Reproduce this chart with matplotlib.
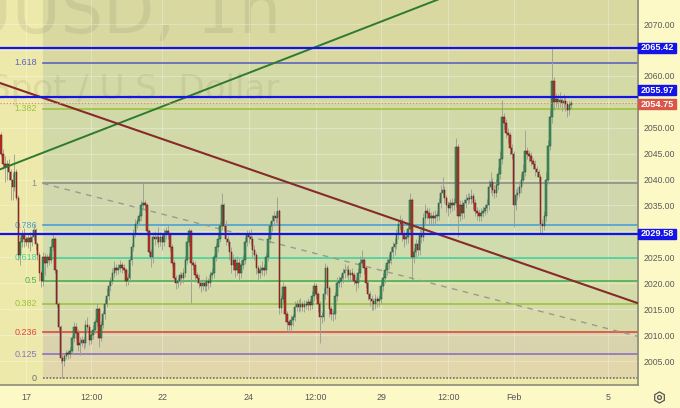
import numpy as np
import matplotlib.pyplot as plt
import matplotlib.transforms as mtransforms
from matplotlib.patches import Rectangle

plt.rcParams['font.family'] = ['Liberation Sans', 'DejaVu Sans']

# XAUUSD 1h candles (closes, open = previous close)
first_open = 2048.6
closes = [
    2045.0, 2043.0, 2042.5, 2043.0, 2041.5, 2040.0, 2038.5, 2041.5, 2036.5, 2025.5,
    2028.0, 2029.5, 2028.5, 2028.0, 2028.8, 2028.0, 2029.0, 2030.3, 2027.5, 2025.5,
    2022.0, 2020.5, 2025.0, 2024.0, 2025.0, 2024.5, 2027.0, 2028.5, 2022.5, 2016.0,
    2011.5, 2005.5, 2005.0, 2006.0, 2006.5, 2006.3, 2007.0, 2009.5, 2011.5, 2010.5,
    2008.0, 2008.5, 2009.0, 2008.5, 2012.0, 2011.5, 2009.0, 2010.0, 2011.0, 2012.5,
    2015.0, 2009.5, 2012.0, 2014.0, 2016.0, 2017.5, 2019.5, 2020.5, 2022.0, 2023.0,
    2022.5, 2023.0, 2023.5, 2023.0, 2022.5, 2020.5, 2021.0, 2024.5, 2027.0, 2029.5,
    2031.5, 2032.0, 2033.0, 2035.0, 2035.5, 2035.0, 2030.0, 2026.0, 2025.0, 2029.0,
    2028.5, 2029.0, 2028.0, 2029.0, 2028.0, 2029.5, 2030.0, 2029.5, 2027.0, 2024.0,
    2021.0, 2020.0, 2020.5, 2021.5, 2021.0, 2022.0, 2024.5, 2028.0, 2030.0, 2024.0,
    2023.5, 2021.5, 2021.0, 2020.0, 2019.5, 2020.0, 2019.5, 2020.5, 2020.0, 2021.5,
    2022.0, 2025.0, 2027.0, 2028.5, 2031.0, 2035.0, 2031.0, 2028.5, 2028.0, 2026.0,
    2023.5, 2024.5, 2022.5, 2024.0, 2022.0, 2023.5, 2024.5, 2028.0, 2029.5, 2029.0,
    2028.5, 2026.5, 2025.5, 2023.0, 2022.0, 2022.5, 2023.0, 2022.5, 2025.0, 2028.5,
    2031.0, 2032.0, 2033.0, 2032.5, 2034.0, 2015.2, 2017.0, 2019.3, 2014.0, 2012.5,
    2012.0, 2013.0, 2013.5, 2015.5, 2016.0, 2015.5, 2016.0, 2015.5, 2016.0, 2015.8,
    2016.3, 2015.8, 2017.5, 2019.5, 2018.0, 2016.0, 2013.5, 2013.5, 2018.0, 2023.0,
    2019.0, 2015.0, 2014.0, 2014.0, 2017.5, 2020.0, 2020.5, 2021.0, 2022.0, 2022.5,
    2022.5, 2021.5, 2022.0, 2021.5, 2020.5, 2020.0, 2022.0, 2024.0, 2024.5, 2023.0,
    2020.0, 2018.0, 2017.0, 2016.5, 2016.0, 2017.0, 2016.5, 2017.0, 2019.5, 2021.0,
    2022.5, 2024.0, 2024.5, 2026.0, 2027.0, 2027.5, 2029.5, 2031.5, 2032.0, 2029.5,
    2028.5, 2029.0, 2030.5, 2036.0, 2025.0, 2026.0, 2027.5, 2026.5, 2029.5, 2029.0,
    2032.5, 2034.0, 2033.5, 2032.5, 2033.0, 2032.5, 2033.0, 2033.0, 2035.5, 2037.5,
    2038.0, 2036.5, 2035.0, 2034.5, 2035.5, 2035.0, 2035.5, 2046.3, 2033.0, 2035.0,
    2033.5, 2035.5, 2036.0, 2036.5, 2036.3, 2036.8, 2035.5, 2034.0, 2033.5, 2033.0,
    2033.5, 2034.0, 2034.5, 2035.0, 2038.5, 2039.5, 2038.0, 2037.5, 2039.0, 2041.0,
    2044.0, 2052.0, 2051.0, 2049.0, 2048.5, 2046.0, 2045.0, 2035.0, 2037.0, 2037.5,
    2038.5, 2040.0, 2041.5, 2045.5, 2045.0, 2044.5, 2043.5, 2043.0, 2042.0, 2041.5,
    2040.5, 2031.5, 2031.0, 2033.0, 2040.0, 2046.5, 2052.0, 2059.0, 2055.0, 2055.5,
    2055.0, 2055.3, 2054.8, 2055.2, 2054.5, 2053.5, 2054.3, 2054.75,
]
# wick length above the body / below the body
up_wick = [
    0.6, 0.8, 1.5, 0.8, 1.0, 0.6, 1.2, 3.5, 0.5, 0.6,
    1.0, 0.8, 1.2, 0.6, 0.8, 1.0, 0.6, 1.2, 0.4, 0.5,
    0.6, 0.4, 1.0, 0.8, 0.6, 0.9, 1.5, 1.2, 0.4, 0.3,
    0.4, 0.4, 0.8, 0.5, 0.6, 0.7, 0.8, 0.6, 1.0, 0.8,
    0.6, 1.2, 0.8, 0.6, 1.0, 1.4, 0.6, 0.8, 0.9, 0.7,
    1.2, 0.5, 0.8, 0.6, 0.9, 1.5, 1.2, 0.8, 1.0, 1.3,
    0.8, 0.7, 0.9, 0.6, 0.8, 0.4, 0.9, 0.8, 0.7, 1.0,
    0.9, 0.6, 0.8, 1.0, 3.8, 0.6, 0.5, 0.4, 0.6, 0.8,
    1.0, 0.7, 1.8, 0.9, 0.6, 1.0, 0.8, 1.2, 0.4, 0.5,
    0.4, 0.6, 0.8, 0.6, 0.7, 0.9, 0.8, 1.0, 0.6, 0.4,
    0.5, 0.8, 0.6, 0.7, 0.5, 0.8, 0.6, 0.9, 0.6, 0.8,
    0.9, 0.7, 0.8, 1.0, 0.8, 2.5, 0.5, 1.2, 0.8, 0.6,
    0.9, 1.2, 0.6, 1.3, 0.8, 1.0, 0.9, 1.0, 0.7, 0.8,
    1.5, 0.6, 0.8, 0.5, 0.6, 1.0, 1.3, 0.7, 0.9, 1.0,
    0.8, 1.2, 0.9, 0.7, 2.6, 0.3, 0.8, 1.0, 0.4, 0.6,
    0.5, 0.8, 0.6, 1.0, 0.8, 0.9, 1.2, 0.6, 0.8, 0.7,
    0.9, 0.6, 1.0, 0.8, 0.6, 0.4, 0.5, 1.0, 1.2, 1.0,
    0.5, 0.4, 0.6, 0.9, 0.8, 1.2, 0.9, 0.8, 1.0, 1.3,
    0.8, 1.0, 0.7, 0.9, 0.6, 0.7, 1.0, 1.3, 2.0, 0.6,
    0.4, 0.5, 0.6, 0.8, 0.7, 0.9, 0.6, 0.8, 1.0, 0.9,
    1.0, 0.8, 1.2, 0.9, 1.0, 1.2, 1.0, 0.9, 1.2, 0.5,
    0.8, 1.0, 1.2, 1.4, 0.4, 0.8, 1.0, 0.9, 1.0, 1.5,
    1.0, 1.3, 0.8, 1.0, 0.7, 0.9, 1.2, 1.0, 1.0, 1.4,
    2.5, 0.8, 0.6, 0.9, 0.8, 1.0, 0.9, 1.7, 0.5, 1.0,
    1.0, 0.8, 1.2, 0.9, 1.0, 1.3, 0.6, 0.8, 0.7, 0.8,
    1.0, 0.9, 0.8, 1.2, 1.5, 2.0, 0.8, 1.0, 1.2, 1.4,
    1.5, 3.3, 0.8, 0.6, 0.9, 0.7, 0.8, 0.6, 1.2, 1.0,
    1.3, 1.0, 1.5, 4.0, 0.8, 0.7, 0.9, 0.6, 0.8, 0.7,
    0.6, 0.5, 0.8, 1.0, 1.5, 1.2, 1.5, 6.6, 0.8, 1.2,
    1.0, 1.5, 0.8, 1.3, 0.9, 0.6, 0.8, 0.5,
]
dn_wick = [
    0.5, 1.0, 3.0, 2.5, 1.5, 4.0, 2.5, 0.8, 0.5, 1.0,
    2.0, 1.0, 1.5, 0.8, 1.2, 1.8, 0.8, 0.6, 1.0, 1.0,
    1.5, 1.2, 1.0, 2.5, 0.8, 1.0, 0.6, 0.8, 0.6, 0.5,
    0.6, 0.8, 3.3, 1.0, 0.7, 0.9, 0.8, 0.6, 0.8, 1.2,
    1.0, 1.8, 0.6, 1.2, 0.8, 0.9, 1.0, 0.7, 0.8, 0.6,
    0.8, 1.8, 0.6, 0.7, 0.9, 0.6, 0.8, 1.0, 0.7, 0.8,
    0.9, 0.7, 0.8, 1.0, 0.6, 1.0, 0.8, 0.7, 0.9, 0.8,
    0.6, 0.8, 0.7, 0.9, 0.8, 1.0, 0.6, 0.8, 1.9, 1.0,
    1.2, 0.8, 1.0, 0.9, 1.5, 0.8, 0.9, 1.0, 0.8, 0.6,
    0.8, 1.2, 0.9, 0.8, 1.0, 0.9, 0.8, 0.7, 0.9, 7.8,
    1.0, 1.2, 0.9, 1.0, 1.2, 0.8, 1.0, 0.9, 1.1, 0.8,
    0.7, 0.9, 0.8, 1.0, 0.6, 0.8, 1.0, 1.2, 0.9, 1.5,
    1.5, 1.0, 1.2, 0.9, 1.3, 1.0, 0.8, 0.7, 0.9, 1.3,
    1.2, 1.5, 1.0, 1.2, 1.5, 0.9, 1.0, 1.1, 0.8, 0.7,
    0.8, 0.9, 1.0, 0.8, 0.9, 1.2, 1.0, 0.8, 1.5, 1.5,
    1.5, 1.0, 1.2, 0.8, 0.9, 1.0, 0.8, 0.9, 1.0, 0.8,
    0.9, 1.0, 0.8, 0.9, 1.0, 1.5, 5.0, 1.2, 0.8, 1.0,
    1.2, 1.5, 1.0, 1.2, 0.9, 1.0, 0.8, 1.2, 0.9, 1.0,
    1.2, 1.3, 1.0, 1.1, 0.9, 1.5, 1.0, 0.8, 0.9, 1.2,
    1.0, 1.2, 1.4, 1.6, 1.2, 0.9, 1.0, 0.8, 0.9, 1.0,
    0.9, 1.0, 1.2, 0.8, 0.9, 1.5, 0.8, 0.9, 1.0, 1.3,
    1.5, 1.0, 1.2, 0.8, 4.4, 1.0, 0.9, 1.3, 1.0, 1.2,
    0.9, 1.0, 1.2, 1.3, 1.0, 1.2, 1.0, 0.9, 0.8, 0.9,
    0.8, 1.0, 1.2, 1.5, 0.9, 1.0, 0.9, 0.8, 4.0, 1.0,
    1.2, 0.9, 1.0, 0.8, 0.9, 1.0, 1.2, 1.0, 1.3, 0.9,
    1.0, 0.8, 0.9, 1.0, 0.8, 1.0, 1.2, 1.0, 0.9, 1.0,
    0.8, 1.0, 1.2, 1.0, 1.5, 1.2, 1.0, 4.1, 0.8, 1.0,
    0.9, 1.0, 0.8, 0.9, 1.0, 1.2, 0.9, 1.0, 1.3, 1.0,
    1.2, 1.8, 1.5, 0.8, 1.0, 0.9, 0.8, 1.0, 1.5, 1.0,
    1.2, 1.0, 1.5, 1.0, 1.2, 1.5, 1.0, 0.6,
]

# time axis (candle index of each label)
time_ticks = [13, 47, 84, 129, 164, 198, 233, 267, 316]
time_labels = ["17", "12:00", "22", "24", "12:00", "29", "12:00", "Feb", "5"]
price_labels = [2005, 2010, 2015, 2020, 2025, 2035, 2040, 2045, 2050, 2060, 2070]
price_grid = [2005, 2010, 2015, 2020, 2025, 2030, 2035, 2040, 2045, 2050, 2055, 2060, 2065, 2070]

# fibonacci retracement
fib_low, fib_high = 2001.65, 2039.25
fib_start = 21.9
fib_ratios = [0, 0.125, 0.236, 0.382, 0.5, 0.618, 0.786, 1, 1.382, 1.618]
fib_texts = ["0", "0.125", "0.236", "0.382", "0.5", "0.618", "0.786", "1", "1.382", "1.618"]
fib_colors = ["#6f6f6f", "#8c72c6", "#e0483c", "#9cc43c", "#4caf50",
              "#3fd39b", "#4a9fd8", "#8e8e86", "#9cc43c", "#5c64c0"]
fib_band_colors = ["#e2d6ab", "#d9d3ad", "#d7dbaa", "#d6dca9", "#d2dcab",
                   "#d0dbae", "#d0d7ad", "#d2d9a9", "#d4daa6", "#d8d8a0"]

# drawings
blue_levels = [2065.42, 2055.97, 2029.58]
last_price = 2054.75
green_trend = ([-1, 240], [2041.9, 2076.5])
maroon_trend = ([-1, 335], [2058.68, 2015.74])
fib_trend = ([21.9, 340], [2039.25, 2008.97])

xmin, xmax = -0.52, 331.8
ymin, ymax = 2000.38, 2074.63

fig = plt.figure(figsize=(6.8, 4.08), dpi=100, facecolor="#fdf9c6")
ax = fig.add_axes([0, 23 / 408, 638 / 680, 385 / 408])
ax.set_facecolor("#ede9aa")
ax.set_xlim(xmin, xmax)
ax.set_ylim(ymin, ymax)

# watermark (cut by the pane edges, as on the chart)
ax.text(281 / 680, 1 - 33 / 408, "XAUUSD, 1h", transform=fig.transFigure,
        ha="right", va="baseline", fontsize=48, color="#7d7d60", alpha=0.15,
        family="DejaVu Sans", zorder=0.6)
ax.text(279 / 680, 1 - 99 / 408, "Gold Spot / U.S. Dollar", transform=fig.transFigure,
        ha="right", va="baseline", fontsize=24.5, color="#7d7d60", alpha=0.15,
        family="DejaVu Sans", zorder=0.6)

# fib bands and levels
levels = [fib_low + r * (fib_high - fib_low) for r in fib_ratios]
band_edges = levels + [ymax + 5]
for k, col in enumerate(fib_band_colors):
    ax.fill_between([fib_start, xmax + 5], band_edges[k], band_edges[k + 1],
                    color=col, lw=0, zorder=0.5)

# grid
for t in time_ticks:
    ax.axvline(t, color="white", alpha=0.28, lw=0.8, zorder=0.7)
for p in price_grid:
    ax.axhline(p, color="white", alpha=0.28, lw=0.8, zorder=0.7)

for lev, txt, col in zip(levels, fib_texts, fib_colors):
    ls = (0, (1, 1)) if txt == "0" else "-"
    ax.plot([fib_start, xmax + 5], [lev, lev], color=col, lw=1.2, ls=ls, zorder=1)
    ax.annotate(txt, (fib_start, lev), xytext=(-4.5, 0), textcoords="offset points",
                ha="right", va="center", fontsize=6.5, color=col, zorder=1)

ax.plot(*fib_trend, color="#9a9a90", lw=1.0, ls=(0, (4, 4)), zorder=1.1)

# candles
n = min(len(closes), len(up_wick), len(dn_wick))
c = np.array(closes[:n])
o = np.concatenate([[first_open], c[:-1]])
hi = np.maximum(o, c) + np.array(up_wick[:n])
lo = np.minimum(o, c) - np.array(dn_wick[:n])
idx = np.arange(n)
up = c >= o
ax.vlines(idx, lo, hi, color="#9a9a92", lw=0.6, zorder=2)
body_lo = np.minimum(o, c)
body_h = np.maximum(np.abs(c - o), 0.15)
ax.bar(idx[up], body_h[up], bottom=body_lo[up], width=0.78, color="#3f9563",
       edgecolor="#1f4f32", lw=0.35, zorder=3)
ax.bar(idx[~up], body_h[~up], bottom=body_lo[~up], width=0.78, color="#c0352b",
       edgecolor="#5a1410", lw=0.35, zorder=3)

# trend lines and horizontal levels
ax.plot(*green_trend, color="#2e7a30", lw=1.4, zorder=4)
ax.plot(*maroon_trend, color="#862a2a", lw=1.5, zorder=4)
for lev in blue_levels:
    ax.axhline(lev, color="#1414e6", lw=1.6, zorder=4)
ax.axhline(last_price, color="#dd8a6c", lw=0.9, ls=(0, (1, 1.5)), zorder=4)

# axes styling
for s in ["top", "left"]:
    ax.spines[s].set_visible(False)
ax.spines["right"].set_color("#8c8c7a")
ax.spines["right"].set_linewidth(1.2)
ax.spines["bottom"].set_color("#8c8c7a")
ax.spines["bottom"].set_linewidth(1.2)

ax.yaxis.tick_right()
ax.set_yticks(price_labels)
ax.set_yticklabels([f"{p:.2f}" for p in price_labels])
ax.tick_params(axis="y", length=0, pad=4, labelsize=6.2, labelcolor="#5a5a5a")
ax.set_xticks(time_ticks)
ax.set_xticklabels(time_labels)
ax.tick_params(axis="x", length=0, pad=6, labelsize=6.4, labelcolor="#555555")

# price labels on the scale
trans = mtransforms.blended_transform_factory(fig.transFigure, ax.transData)
box_h = 10 / 5.185
tags = [(2065.42, 0.0, "#1414e6"), (2055.97, 1.3, "#1414e6"),
        (last_price, -0.2, "#d9574a"), (2029.58, 0.0, "#1414e6")]
for val, shift, col in tags:
    yc = val + shift
    ax.add_patch(Rectangle((638 / 680, yc - box_h / 2), 38 / 680, box_h,
                           transform=trans, color=col, clip_on=False, zorder=6))
    ax.text(657 / 680, yc, f"{val:.2f}", transform=trans, ha="center", va="center",
            fontsize=6.6, fontweight="bold", color="white", clip_on=False, zorder=7)

# settings icon
ax.plot([659 / 680], [1 - 397 / 408], marker="h", ms=8, mfc="none", mec="#555555",
        mew=0.9, transform=fig.transFigure, clip_on=False)
ax.plot([659 / 680], [1 - 397 / 408], marker="o", ms=2.8, mfc="none", mec="#555555",
        mew=0.9, transform=fig.transFigure, clip_on=False)

fig.savefig("out.png", dpi=100, facecolor=fig.get_facecolor())
